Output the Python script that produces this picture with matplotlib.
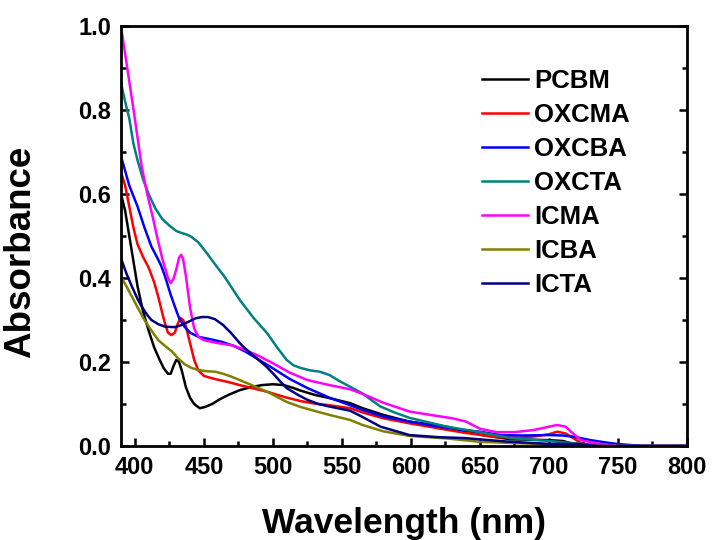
import matplotlib
matplotlib.use("Agg")
import matplotlib.pyplot as plt
from matplotlib.ticker import MultipleLocator

plt.rcParams['font.family'] = ['Liberation Sans', 'DejaVu Sans']
plt.rcParams['font.weight'] = 'bold'

names = ["PCBM", "OXCMA", "OXCBA", "OXCTA", "ICMA", "ICBA", "ICTA"]
colors = ["#000000", "#FF0000", "#0000FF", "#008080", "#FF00FF", "#808000", "#000080"]

pcbm_x = [390, 393, 396, 399, 402, 406, 410, 414, 418, 421, 424, 426, 428, 430, 432, 434, 437, 440, 443, 447, 451, 456, 462, 468, 476, 484, 492, 500, 508, 515, 520, 530, 541, 556, 565, 580, 599, 626, 650, 672, 700, 710, 720, 750, 800]
pcbm_y = [0.60, 0.56, 0.50, 0.44, 0.38, 0.32, 0.275, 0.235, 0.205, 0.185, 0.172, 0.172, 0.19, 0.205, 0.20, 0.18, 0.14, 0.115, 0.10, 0.09, 0.093, 0.10, 0.112, 0.122, 0.133, 0.14, 0.145, 0.147, 0.145, 0.138, 0.132, 0.122, 0.114, 0.102, 0.09, 0.074, 0.058, 0.046, 0.027, 0.016, 0.014, 0.012, 0.003, 0.0, 0.0]

oxcma_x = [390, 393, 396, 399, 402, 406, 410, 414, 417, 420, 422, 424, 426.5, 429, 431, 433, 435, 437, 440, 443, 446, 450, 455, 460, 468, 476, 486, 496, 508, 520, 530, 541, 556, 565, 580, 599, 620, 638, 662, 680, 690, 700, 706, 712, 718, 724, 740, 800]
oxcma_y = [0.653, 0.62, 0.57, 0.52, 0.48, 0.45, 0.425, 0.39, 0.355, 0.315, 0.29, 0.27, 0.264, 0.27, 0.29, 0.305, 0.30, 0.285, 0.245, 0.205, 0.18, 0.167, 0.162, 0.158, 0.152, 0.145, 0.137, 0.129, 0.117, 0.107, 0.101, 0.097, 0.09, 0.08, 0.066, 0.054, 0.042, 0.032, 0.021, 0.02, 0.023, 0.028, 0.034, 0.03, 0.018, 0.005, 0.0, 0.0]

oxcba_x = [390, 393, 396, 399, 402, 407, 412, 416, 419, 422, 426, 429, 432, 436, 440, 446, 455, 463, 472, 480, 490, 500, 512, 525, 541, 556, 565, 580, 599, 620, 638, 650, 665, 680, 700, 710, 718, 730, 740, 749, 760, 770, 800]
oxcba_y = [0.69, 0.655, 0.62, 0.595, 0.57, 0.52, 0.475, 0.45, 0.43, 0.403, 0.36, 0.332, 0.305, 0.284, 0.27, 0.26, 0.254, 0.248, 0.238, 0.225, 0.205, 0.185, 0.16, 0.138, 0.115, 0.097, 0.086, 0.07, 0.058, 0.046, 0.038, 0.034, 0.026, 0.025, 0.026, 0.025, 0.022, 0.014, 0.009, 0.005, 0.002, 0.0, 0.0]

oxcta_x = [390, 393, 396, 399, 402, 406, 410, 415, 420, 425, 430, 434, 438, 441, 446, 452, 458, 465, 476, 486, 496, 503, 510, 515, 520, 527, 534, 541, 548, 556, 565, 572, 578, 588, 599, 612, 626, 650, 672, 700, 720, 740, 800]
oxcta_y = [0.864, 0.82, 0.78, 0.72, 0.68, 0.635, 0.60, 0.565, 0.54, 0.525, 0.512, 0.507, 0.503, 0.498, 0.485, 0.46, 0.433, 0.403, 0.348, 0.305, 0.268, 0.235, 0.205, 0.192, 0.186, 0.18, 0.177, 0.169, 0.155, 0.141, 0.125, 0.108, 0.094, 0.08, 0.067, 0.057, 0.046, 0.033, 0.019, 0.012, 0.006, 0.0, 0.0]

icma_x = [390, 395, 400, 405, 409, 413, 416, 420, 424, 426, 428, 430, 432, 433.5, 435, 437, 440, 443, 446, 450, 460, 470, 480, 490, 500, 512, 525, 541, 556, 565, 580, 599, 614, 630, 640, 650, 662, 675, 689, 700, 706, 712, 716, 723, 737, 750, 800]
icma_y = [0.998, 0.89, 0.78, 0.665, 0.60, 0.545, 0.50, 0.445, 0.40, 0.388, 0.398, 0.42, 0.448, 0.455, 0.445, 0.405, 0.33, 0.28, 0.26, 0.252, 0.245, 0.24, 0.229, 0.214, 0.197, 0.175, 0.157, 0.145, 0.135, 0.124, 0.103, 0.082, 0.074, 0.066, 0.058, 0.041, 0.033, 0.033, 0.038, 0.046, 0.05, 0.046, 0.034, 0.014, 0.005, 0.0, 0.0]

icba_x = [390, 394, 398, 402, 407, 412, 417, 422, 427, 431, 436, 441, 446, 452, 458, 464, 470, 476, 486, 496, 510, 520, 532, 541, 556, 565, 580, 599, 626, 650, 700, 720, 800]
icba_y = [0.403, 0.38, 0.355, 0.33, 0.30, 0.275, 0.252, 0.238, 0.225, 0.21, 0.195, 0.186, 0.181, 0.178, 0.177, 0.172, 0.165, 0.157, 0.143, 0.129, 0.105, 0.093, 0.082, 0.074, 0.062, 0.05, 0.035, 0.024, 0.018, 0.010, 0.004, 0.0, 0.0]

icta_x = [390, 394, 398, 402, 405, 409, 412, 417, 422, 429, 434, 439, 444, 448.5, 453, 458, 464, 470, 476, 480, 485, 490, 495, 500, 505, 510, 518, 525, 533, 541, 556, 565, 578, 599, 620, 638, 672, 700, 720, 735, 800]
icta_y = [0.447, 0.41, 0.379, 0.35, 0.332, 0.312, 0.30, 0.29, 0.284, 0.283, 0.288, 0.296, 0.304, 0.307, 0.307, 0.302, 0.288, 0.268, 0.245, 0.232, 0.218, 0.204, 0.19, 0.173, 0.155, 0.138, 0.122, 0.110, 0.1, 0.094, 0.084, 0.069, 0.046, 0.026, 0.021, 0.019, 0.010, 0.005, 0.005, 0.0, 0.0]

series_x = [pcbm_x, oxcma_x, oxcba_x, oxcta_x, icma_x, icba_x, icta_x]
series_y = [pcbm_y, oxcma_y, oxcba_y, oxcta_y, icma_y, icba_y, icta_y]

fig = plt.figure(figsize=(7.15, 5.40), dpi=100)
ax = fig.add_axes([121/715, 94/540, 566/715, 420/540])

for xs, ys, c, n in zip(series_x, series_y, colors, names):
    ax.plot(xs, ys, color=c, lw=1.8, label=n, solid_joinstyle='round')

ax.set_xlim(390, 800)
ax.set_ylim(0, 1.0)
ax.xaxis.set_major_locator(MultipleLocator(50))
ax.xaxis.set_minor_locator(MultipleLocator(25))
ax.yaxis.set_major_locator(MultipleLocator(0.2))
ax.yaxis.set_minor_locator(MultipleLocator(0.1))
ax.yaxis.set_major_formatter(matplotlib.ticker.FormatStrFormatter('%.1f'))

for s in ax.spines.values():
    s.set_linewidth(2)

ax.tick_params(which='both', direction='in', width=1.8, labelsize=17, right=True, top=False)
ax.tick_params(which='major', length=6, pad=7)
ax.tick_params(which='minor', length=3.5)
for lbl in ax.get_xticklabels() + ax.get_yticklabels():
    lbl.set_fontweight('bold')

ax.set_xlabel("Wavelength (nm)", fontsize=25.5, fontweight='bold', labelpad=20)
ax.set_ylabel("Absorbance", fontsize=26.5, fontweight='bold')
ax.yaxis.set_label_coords(-0.147, 0.462)

leg = ax.legend(loc='upper left', bbox_to_anchor=(0.619, 0.922), frameon=False,
                fontsize=18.5, handlelength=1.8, handletextpad=0.25, labelspacing=0.39,
                borderaxespad=0)
for t in leg.get_texts():
    t.set_fontweight('bold')

fig.savefig("out.png", dpi=100)
